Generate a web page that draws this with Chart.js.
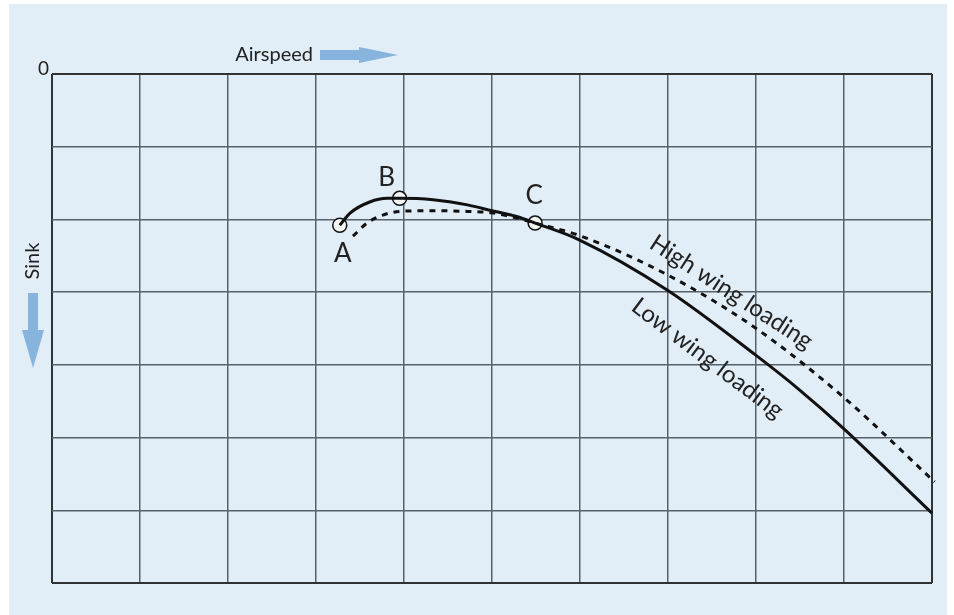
<!DOCTYPE html>
<html>
<head>
<meta charset="utf-8">
<script src="https://cdn.jsdelivr.net/npm/chart.js@4.4.0/dist/chart.umd.min.js"></script>
<style>
  body { margin: 0; background: #fff; }
  #panel { position: absolute; left: 9px; top: 4px; width: 938px; height: 611px; background: #e1edf7; }
</style>
</head>
<body>
<div id="panel"><canvas id="polar" width="938" height="611"></canvas></div>
<script>
// Sink polar: airspeed (x) vs sink (y, downwards)
const lowX    = [3.27, 3.39, 3.61, 3.81, 3.95, 4.33, 4.72, 5.0, 5.28, 5.49, 5.99, 6.99, 7.99, 8.5, 8.99, 10];
const lowSink = [2.08, 1.91, 1.76, 1.71, 1.71, 1.73, 1.80, 1.88, 1.96, 2.05, 2.28, 2.97, 3.86, 4.35, 4.87, 6.04];

const highX    = [3.42, 3.58, 3.76, 3.95, 4.33, 4.72, 5.0, 5.28, 5.49, 5.99, 6.99, 7.99, 8.99, 10.03];
const highSink = [2.23, 2.05, 1.94, 1.89, 1.88, 1.89, 1.91, 1.98, 2.05, 2.22, 2.76, 3.49, 4.44, 5.61];

const markerX     = [3.27, 3.95, 5.49];
const markerSink  = [2.08, 1.71, 2.05];
const markerNames = ['A', 'B', 'C'];

const curveNames = [
  { text: 'High wing loading', x: 7.72, y: 3.0, angle: 33 },
  { text: 'Low wing loading', x: 7.45, y: 3.91, angle: 37 }
];

const FONT = 'Lato, "Open Sans", sans-serif';
const ARROW = '#87b4dd';

const toPts = (xs, ys) => xs.map((x, i) => ({ x: x, y: ys[i] }));

// extra drawing: labels, arrows, "0"
const decor = {
  id: 'decor',
  afterDatasetsDraw(chart) {
    const ctx = chart.ctx, xs = chart.scales.x, ys = chart.scales.y;
    const area = chart.chartArea;
    ctx.save();
    ctx.fillStyle = '#222';

    // point letters
    ctx.font = '26px ' + FONT;
    ctx.textAlign = 'center';
    ctx.textBaseline = 'middle';
    const offs = [[3, 28], [-13, -21], [-1, -27]];
    markerNames.forEach((n, i) => {
      ctx.fillText(n, xs.getPixelForValue(markerX[i]) + offs[i][0], ys.getPixelForValue(markerSink[i]) + offs[i][1]);
    });

    // curve names, rotated
    ctx.font = '24px ' + FONT;
    curveNames.forEach(c => {
      ctx.save();
      ctx.translate(xs.getPixelForValue(c.x), ys.getPixelForValue(c.y));
      ctx.rotate(c.angle * Math.PI / 180);
      ctx.fillText(c.text, 0, 0);
      ctx.restore();
    });

    // zero label
    ctx.font = '19px ' + FONT;
    ctx.textAlign = 'right';
    ctx.textBaseline = 'bottom';
    ctx.fillText('0', area.left - 3, area.top + 4);

    // Airspeed label + arrow
    ctx.font = '20px ' + FONT;
    ctx.textAlign = 'right';
    ctx.textBaseline = 'middle';
    const ay = area.top - 19;
    ctx.fillText('Airspeed', 304, ay);
    ctx.fillStyle = ARROW;
    ctx.fillRect(311, ay - 5, 42, 10);
    ctx.beginPath();
    ctx.moveTo(350, ay - 8);
    ctx.lineTo(389, ay);
    ctx.lineTo(350, ay + 8);
    ctx.closePath();
    ctx.fill();

    // Sink label + arrow
    ctx.fillStyle = '#222';
    ctx.save();
    ctx.translate(24, 257);
    ctx.rotate(-Math.PI / 2);
    ctx.textAlign = 'center';
    ctx.fillText('Sink', 0, 0);
    ctx.restore();
    ctx.fillStyle = ARROW;
    ctx.fillRect(19, 289, 10, 40);
    ctx.beginPath();
    ctx.moveTo(13, 326);
    ctx.lineTo(24, 364);
    ctx.lineTo(35, 326);
    ctx.closePath();
    ctx.fill();
    ctx.restore();
  }
};

const edge = v => v === 0 || v === 10;

new Chart(document.getElementById('polar'), {
  type: 'scatter',
  data: {
    datasets: [
      {
        data: toPts(highX, highSink),
        showLine: true,
        borderColor: '#111',
        borderWidth: 3,
        borderDash: [6, 6],
        pointRadius: 0,
        cubicInterpolationMode: 'monotone',
        clip: false
      },
      {
        data: toPts(lowX, lowSink),
        showLine: true,
        borderColor: '#111',
        borderWidth: 3,
        pointRadius: 0,
        cubicInterpolationMode: 'monotone',
        clip: false
      },
      {
        data: toPts(markerX, markerSink),
        pointRadius: 7,
        pointBackgroundColor: '#f3f7f2',
        pointBorderColor: '#111',
        pointBorderWidth: 1.5
      }
    ]
  },
  options: {
    responsive: false,
    animation: false,
    layout: { padding: { left: 43, top: 70, right: 15, bottom: 32 } },
    plugins: { legend: { display: false }, tooltip: { enabled: false } },
    scales: {
      x: {
        type: 'linear', min: 0, max: 10,
        ticks: { display: false, stepSize: 1 },
        grid: {
          drawTicks: false,
          color: c => edge(c.tick.value) ? '#333' : '#56616a',
          lineWidth: c => edge(c.tick.value) ? 2 : 1.5
        },
        border: { display: false }
      },
      y: {
        type: 'linear', min: 0, max: 7, reverse: true,
        ticks: { display: false, stepSize: 1 },
        grid: {
          drawTicks: false,
          color: c => (c.tick.value === 0 || c.tick.value === 7) ? '#333' : '#56616a',
          lineWidth: c => (c.tick.value === 0 || c.tick.value === 7) ? 2 : 1.5
        },
        border: { display: false }
      }
    }
  },
  plugins: [decor]
});
</script>
</body>
</html>
